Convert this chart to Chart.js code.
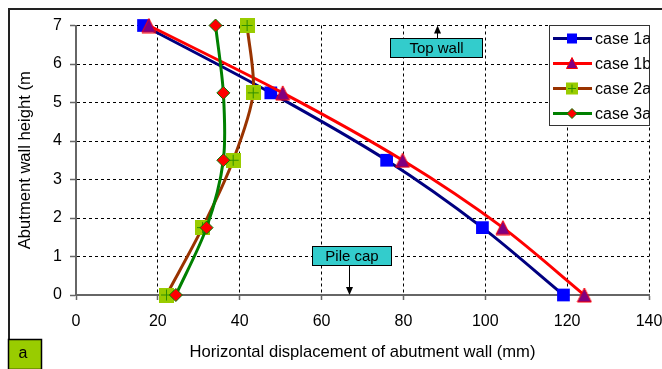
<!DOCTYPE html>
<html>
<head>
<meta charset="utf-8">
<script src="https://cdn.jsdelivr.net/npm/chart.js@4/dist/chart.umd.min.js"></script>
<style>
  html, body { margin: 0; padding: 0; background: #fff; }
  #wrap { position: relative; width: 662px; height: 369px; }
  canvas { display: block; }
</style>
</head>
<body>
<div id="wrap"><canvas id="c" width="662" height="369"></canvas></div>
<script>
// Abutment wall height (m) at each monitored level
const heights = [0, 1.75, 3.5, 5.25, 7];
// Horizontal displacement (mm) per case, listed bottom to top
const case1a = [119.1, 99.3, 75.9, 47.6, 16.5];
const case1b = [124.2, 104.3, 79.8, 50.5, 17.8];
const case2a = [22.1, 30.9, 38.4, 43.3, 41.8];
const case3a = [24.4, 31.9, 36.0, 36.0, 34.1];
const seriesNames = ['case 1a', 'case 1b', 'case 2a', 'case 3a'];
const xTickValues = [0, 20, 40, 60, 80, 100, 120, 140];
const yTickValues = [0, 1, 2, 3, 4, 5, 6, 7];
const xTitle = 'Horizontal displacement of abutment wall (mm)';
const yTitle = 'Abutment wall height (m';
const panelTag = 'a';
// Callout boxes: [text, x-left, x-right, y-top, y-bottom, arrow x, arrow target y]
const topWallNote = ['Top wall', 76.7, 99.2, 6.67, 6.17, 88.2, 7];
const pileCapNote = ['Pile cap', 57.6, 77.0, 1.27, 0.78, 66.8, 0];

const FONT = "'Liberation Sans', Arial, sans-serif";
Chart.defaults.font.family = FONT;
Chart.defaults.font.size = 16;
Chart.defaults.color = '#000';

function pts(xs) { return xs.map((v, i) => ({ x: v, y: heights[i] })); }

// marker images
function makeMarker(w, h, draw) {
  const c = document.createElement('canvas');
  c.width = w; c.height = h;
  draw(c.getContext('2d'), w, h);
  return c;
}
function drawCrossSquare(ctx, x, y, s) {
  ctx.fillStyle = '#99cc00';
  ctx.fillRect(x, y, s, s);
  ctx.strokeStyle = '#2f8f00';
  ctx.lineWidth = 1;
  ctx.beginPath();
  ctx.moveTo(x + s / 2, y + 2); ctx.lineTo(x + s / 2, y + s - 2);
  ctx.moveTo(x + 2, y + s / 2); ctx.lineTo(x + s - 2, y + s / 2);
  ctx.stroke();
}
function drawTri(ctx, cx, cy, w, h) {
  ctx.beginPath();
  ctx.moveTo(cx, cy - h / 2);
  ctx.lineTo(cx + w / 2, cy + h / 2);
  ctx.lineTo(cx - w / 2, cy + h / 2);
  ctx.closePath();
  ctx.fillStyle = '#800080';
  ctx.fill();
  ctx.strokeStyle = '#ff0000';
  ctx.lineWidth = 1;
  ctx.stroke();
}
const crossMarker = makeMarker(15, 15, (ctx, w) => drawCrossSquare(ctx, 0, 0, w));
const triMarker = makeMarker(16, 16, (ctx) => drawTri(ctx, 8, 8, 14, 14));

const overlay = {
  id: 'overlay',
  afterDraw(chart) {
    const ctx = chart.ctx;
    const xs = chart.scales.x, ys = chart.scales.y;
    ctx.save();
    // outer frame
    ctx.strokeStyle = '#222';
    ctx.lineWidth = 2;
    ctx.strokeRect(9, 9, 720, 420);

    // callouts
    [topWallNote, pileCapNote].forEach(n => {
      const [txt, x0, x1, yt, yb, ax, ay] = n;
      const L = Math.round(xs.getPixelForValue(x0)) + 0.5;
      const R = Math.round(xs.getPixelForValue(x1)) + 0.5;
      const T = Math.round(ys.getPixelForValue(yt)) + 0.5;
      const B = Math.round(ys.getPixelForValue(yb)) + 0.5;
      ctx.fillStyle = '#33cccc';
      ctx.fillRect(L, T, R - L, B - T);
      ctx.strokeStyle = '#000';
      ctx.lineWidth = 1;
      ctx.strokeRect(L, T, R - L, B - T);
      ctx.fillStyle = '#000';
      ctx.font = '15px ' + FONT;
      ctx.textAlign = 'center';
      ctx.textBaseline = 'middle';
      ctx.fillText(txt, (L + R) / 2, (T + B) / 2 + 1);
      // arrow
      const px = Math.round(xs.getPixelForValue(ax)) + 0.5;
      const py = ys.getPixelForValue(ay);
      const start = ay > yt ? T : B;
      const dir = py < start ? -1 : 1;
      ctx.beginPath();
      ctx.moveTo(px, start);
      ctx.lineTo(px, py - dir * 6);
      ctx.stroke();
      ctx.beginPath();
      ctx.moveTo(px, py);
      ctx.lineTo(px - 3.5, py - dir * 8);
      ctx.lineTo(px + 3.5, py - dir * 8);
      ctx.closePath();
      ctx.fill();
    });

    // legend
    const lx = 549.5, ly = 25.5, lw = 100, lh = 100;
    ctx.fillStyle = '#fff';
    ctx.fillRect(lx, ly, lw, lh);
    ctx.strokeStyle = '#333';
    ctx.lineWidth = 1;
    ctx.strokeRect(lx, ly, lw, lh);
    ctx.save();
    ctx.beginPath();
    ctx.rect(lx, ly, lw, lh);
    ctx.clip();
    chart.data.datasets.slice().sort((a, b) => b.order - a.order).forEach((ds, i) => {
      const cy = 38.5 + i * 25;
      ctx.strokeStyle = ds.borderColor;
      ctx.lineWidth = 3;
      ctx.beginPath();
      ctx.moveTo(553, cy); ctx.lineTo(592, cy);
      ctx.stroke();
      const mx = 572;
      if (ds.label === 'case 1a') {
        ctx.fillStyle = '#0000ff';
        ctx.fillRect(mx - 5, cy - 5, 10, 10);
      } else if (ds.label === 'case 1b') {
        drawTri(ctx, mx, cy - 0.5, 11, 11);
      } else if (ds.label === 'case 2a') {
        drawCrossSquare(ctx, mx - 6, cy - 6, 12);
      } else {
        ctx.beginPath();
        ctx.moveTo(mx, cy - 5); ctx.lineTo(mx + 5, cy); ctx.lineTo(mx, cy + 5); ctx.lineTo(mx - 5, cy);
        ctx.closePath();
        ctx.fillStyle = '#ff0000'; ctx.fill();
        ctx.strokeStyle = '#008000'; ctx.lineWidth = 1; ctx.stroke();
      }
      ctx.fillStyle = '#000';
      ctx.font = '16px ' + FONT;
      ctx.textAlign = 'left';
      ctx.textBaseline = 'middle';
      ctx.fillText(ds.label, 595, cy + 1);
    });
    ctx.restore();

    // panel tag
    ctx.fillStyle = '#99cc00';
    ctx.fillRect(8.5, 339.5, 33, 30);
    ctx.strokeStyle = '#000';
    ctx.lineWidth = 1.5;
    ctx.strokeRect(8.5, 339.5, 33, 30);
    ctx.fillStyle = '#000';
    ctx.font = '16px ' + FONT;
    ctx.textAlign = 'center';
    ctx.textBaseline = 'middle';
    ctx.fillText(panelTag, 23, 354);
    ctx.restore();
  }
};

const bg = {
  id: 'bg',
  beforeDraw(chart) {
    const ctx = chart.ctx;
    ctx.save();
    ctx.fillStyle = '#fff';
    ctx.fillRect(0, 0, chart.width, chart.height);
    ctx.restore();
  }
};

new Chart(document.getElementById('c'), {
  type: 'line',
  data: {
    datasets: [
      { label: seriesNames[0], data: pts(case1a), order: 4, borderColor: '#000080', borderWidth: 3, clip: false,
        pointStyle: 'rect', pointRadius: 9, pointBackgroundColor: '#0000ff', pointBorderColor: '#0000ff', pointBorderWidth: 0 },
      { label: seriesNames[1], data: pts(case1b), order: 3, borderColor: '#ff0000', borderWidth: 3, clip: false,
        pointStyle: triMarker, pointRadius: 8 },
      { label: seriesNames[2], data: pts(case2a), order: 2, borderColor: '#993300', borderWidth: 3, clip: false,
        pointStyle: crossMarker, pointRadius: 8 },
      { label: seriesNames[3], data: pts(case3a), order: 1, borderColor: '#008000', borderWidth: 3, clip: false,
        pointStyle: 'rectRot', pointRadius: 6.5, pointBackgroundColor: '#ff0000', pointBorderColor: '#008000', pointBorderWidth: 1 }
    ]
  },
  options: {
    responsive: false,
    animation: false,
    events: [],
    elements: { line: { tension: 0.3, fill: false } },
    layout: { padding: { left: 0, right: 0, top: 25.5, bottom: 0 } },
    plugins: { legend: { display: false }, tooltip: { enabled: false } },
    scales: {
      x: {
        type: 'linear', min: 0, max: 140,
        afterBuildTicks: s => { s.ticks = xTickValues.map(v => ({ value: v })); },
        afterFit: s => { s.height = 74; s.paddingRight = 13; s.paddingLeft = 0; },
        ticks: { padding: 12, font: { size: 16 }, color: '#000' },
        grid: { color: '#000', lineWidth: 1, tickLength: 5, tickColor: '#666', tickWidth: 1.5, borderDash: [3, 3] },
        border: { display: true, color: '#666', width: 2, dash: [3, 3] },
        title: { display: true, text: xTitle, font: { size: 16.6 }, color: '#000', padding: { top: 0, bottom: 7 } }
      },
      y: {
        type: 'linear', min: 0, max: 7,
        afterBuildTicks: s => { s.ticks = yTickValues.map(v => ({ value: v })); },
        afterFit: s => { s.width = 76; },
        ticks: { padding: 8, font: { size: 16 }, color: '#000' },
        grid: { color: '#000', lineWidth: 1, tickLength: 6, tickColor: '#666', tickWidth: 1.5, borderDash: [3, 3] },
        border: { display: true, color: '#666', width: 2, dash: [3, 3] },
        title: { display: true, text: yTitle, font: { size: 16.6 }, color: '#000', padding: { top: 15.5, bottom: 0 } }
      }
    }
  },
  plugins: [bg, overlay]
});
</script>
</body>
</html>
